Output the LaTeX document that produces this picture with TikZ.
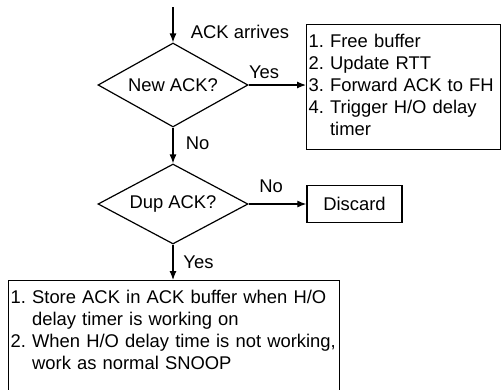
\documentclass[tikz,border=0pt]{standalone}
\usepackage{fontspec}
\setmainfont{Liberation Sans}
\usetikzlibrary{arrows.meta,shapes.geometric,positioning}

\newcommand\flowfont{\fontsize{18.4}{22}\selectfont\frenchspacing\hyphenpenalty=10000\relax}

\tikzset{
  every node/.style={font=\flowfont},
  flow/.style={line width=1.2pt,-{Latex[length=9pt,width=7pt]}},
  test/.style={draw,line width=1.2pt,shape=diamond,aspect=1.8,inner sep=0pt,minimum width=150pt,minimum height=82pt},
  todo/.style={draw,line width=1.3pt,align=left,anchor=north west,inner ysep=0pt}
}

\begin{document}
\begin{tikzpicture}[x=1pt,y=-1pt]
\useasboundingbox (0,0) rectangle (501,389);

\coordinate (start) at (173,7);
\node[test,minimum height=84pt] (newack) at (173,85) {New ACK?};
\node[test,minimum height=80pt] (dupack) at (173,204) {Dup ACK?};

\node[todo,inner xsep=2pt,text width=190pt,minimum height=125pt] (upd) at (306,24)
  {1. Free buffer\\2. Update RTT\\3. Forward ACK to FH\\4. Trigger H/O delay\\\phantom{4. }timer\vphantom{y}\\[-3pt]};
\node[draw,line width=1.3pt,minimum width=95pt,minimum height=37pt] (discard) at (354.5,204) {Discard};
\node[todo,inner xsep=2pt,inner ysep=10pt,text width=327pt,text depth=100pt] (store) at (8,280)
  {1. Store ACK in ACK buffer when H/O\\\phantom{1. }delay timer is working on\\2. When H/O delay time is not working,\\\phantom{2. }work as normal SNOOP};

\draw[flow] (start) -- node[pos=0.7,right=14pt] {ACK arrives} (newack.north);
\draw[flow] (newack.east) -- node[pos=0.27,above,yshift=2.5pt] {Yes} (upd.west |- newack.east);
\draw[flow] (newack.south) -- node[pos=0.43,right=9pt] {No} (dupack.north);
\draw[flow] (dupack.east) -- node[pos=0.39,above,yshift=7pt] {No} (discard.west);
\draw[flow] (dupack.south) -- node[pos=0.5,right=6.5pt] {Yes} (dupack.south |- store.north);

\end{tikzpicture}
\end{document}
